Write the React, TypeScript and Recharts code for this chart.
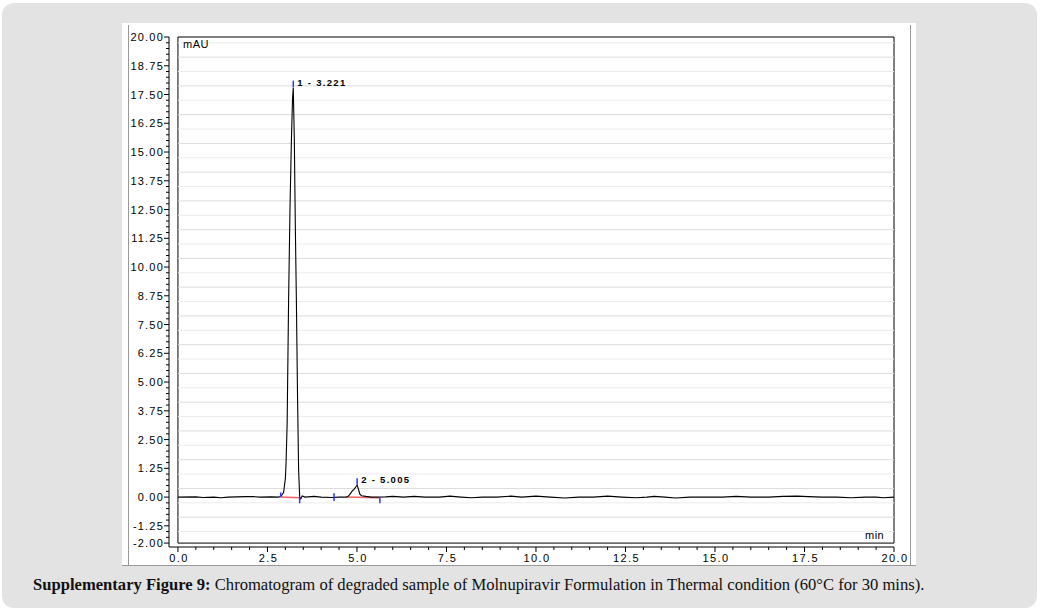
import React from 'react';
import {
  ComposedChart,
  Line,
  XAxis,
  YAxis,
  ReferenceArea,
  ReferenceLine,
} from 'recharts';

// retention time (min) and detector signal (mAU)
const times = [
  0.0, 0.5, 0.7, 1.0, 1.2, 1.4, 1.9, 2.1, 2.3, 2.6, 2.8, 2.87, 2.95, 3.0, 3.02, 3.05, 3.09, 3.13,
  3.17, 3.2, 3.221, 3.25, 3.28, 3.31, 3.34, 3.37, 3.4, 3.43, 3.47, 3.55, 3.8, 4.0, 4.3, 4.5, 4.7,
  4.75, 4.8, 4.87, 4.93, 4.97, 5.005, 5.04, 5.08, 5.13, 5.25, 5.4, 5.8, 6.0, 6.3, 6.6, 6.9, 7.3,
  7.6, 7.9, 8.2, 8.5, 8.9, 9.3, 9.6, 10.0, 10.4, 10.8, 11.2, 11.6, 12.0, 12.4, 12.8, 13.1, 13.3,
  13.6, 13.9, 14.3, 14.8, 15.2, 15.6, 16.0, 16.5, 16.9, 17.3, 17.6, 18.0, 18.4, 18.8, 19.2, 19.5,
  19.7, 20.0,
];
const signal = [
  0.0, 0.01, -0.02, 0.0, -0.03, 0.0, 0.02, 0.02, 0.0, 0.01, 0.0, 0.02, 0.2, 0.8, 1.5, 3.2, 8.5,
  12.6, 15.6, 17.3, 17.8, 15.6, 11.6, 8.3, 4.4, 1.2, 0.0, -0.08, 0.05, 0.0, 0.03, 0.0, -0.02, 0.0,
  0.0, 0.02, 0.12, 0.27, 0.36, 0.45, 0.52, 0.35, 0.13, 0.06, 0.03, 0.0, 0.01, 0.03, 0.0, 0.03, 0.0,
  0.0, 0.04, 0.0, -0.03, 0.0, 0.0, 0.04, 0.0, 0.04, 0.0, -0.04, 0.0, 0.0, 0.04, 0.0, -0.03, 0.0,
  0.03, 0.0, -0.04, 0.0, 0.0, 0.0, 0.03, 0.0, 0.0, 0.03, 0.04, 0.02, 0.0, 0.0, -0.03, 0.0, 0.0,
  -0.03, 0.0,
];

const xTicks = [0, 2.5, 5, 7.5, 10, 12.5, 15, 17.5, 20];
const yTicks = [20, 18.75, 17.5, 16.25, 15, 13.75, 12.5, 11.25, 10, 8.75, 7.5, 6.25, 5, 3.75, 2.5, 1.25, 0, -1.25, -2];

// peaks: label, apex time, apex height
const peakNames = ['1 - 3.221', '2 - 5.005'];
const peakTimes = [3.221, 5.005];
const peakHeights = [17.8, 0.52];

// integration baselines (red) and event markers (blue)
const baseStart = [2.87, 4.7];
const baseEnd = [3.4, 5.62];
const markerTimes = [2.87, 3.4, 4.36, 5.64];
const markerLow = [0, -0.27, -0.17, -0.27];
const markerHigh = [0.2, 0, 0.17, 0];

// minor ticks: 0.5 min on x, 0.25 mAU on y
const xMinor: number[] = [];
for (let i = 0; i <= 40; i++) xMinor.push(i * 0.5);
const yMinor: number[] = [];
for (let i = 0; i <= 88; i++) yMinor.push(-2 + i * 0.25);
const gridValues: number[] = [];
for (let i = 1; i <= 35; i++) gridValues.push(-2 + i * 0.625 - 0.125);

const data = times.map((t, i) => ({ t, v: signal[i] }));

const FONT = 'Liberation Sans, Arial, sans-serif';

const XTick = (props: any) => {
  const { x, y, payload } = props;
  const major = xTicks.includes(payload.value);
  return (
    <g>
      <line x1={x} x2={x} y1={y} y2={y + (major ? 5 : 3)} stroke="#000" />
      {major && (
        <text x={x + 1} y={y + 15} textAnchor="middle" fontFamily={FONT} fontSize={11} letterSpacing={1.4} fill="#000">
          {payload.value.toFixed(1)}
        </text>
      )}
    </g>
  );
};

const YTick = (props: any) => {
  const { x, y, payload } = props;
  const major = yTicks.includes(payload.value);
  return (
    <g>
      <line x1={x - (major ? 5 : 3)} x2={x} y1={y} y2={y} stroke="#000" />
      {major && (
        <text x={x - 5} y={y + 4} textAnchor="end" fontFamily={FONT} fontSize={11} letterSpacing={1.2} fill="#000">
          {payload.value.toFixed(2)}
        </text>
      )}
    </g>
  );
};

const PeakLabel = (props: any) => {
  const { viewBox, value } = props;
  return (
    <text
      x={viewBox.x + 4}
      y={viewBox.y + 5}
      fontFamily={FONT}
      fontSize={9.5}
      fontWeight="bold"
      letterSpacing={1.3}
      fill="#000"
    >
      {value}
    </text>
  );
};

export default function App() {
  return (
    <div style={{ position: 'absolute', left: 0, top: 0, width: 1041, height: 612, background: '#fff' }}>
      <div
        style={{
          position: 'absolute',
          left: 2,
          top: 3,
          width: 1035,
          height: 605,
          borderRadius: 12,
          background: '#e3e3e3',
        }}
      />
      <div style={{ position: 'absolute', left: 122, top: 23, width: 794, height: 543, background: '#fff' }} />
      <div style={{ position: 'absolute', left: 128, top: 25, width: 1, height: 541, background: '#999' }} />
      <div style={{ position: 'absolute', left: 910, top: 25, width: 1, height: 541, background: '#999' }} />
      <div style={{ position: 'absolute', left: 122, top: 565, width: 794, height: 1, background: '#999' }} />
      <div style={{ position: 'absolute', left: 122, top: 23 }}>
        <ComposedChart
          width={794}
          height={543}
          data={data}
          margin={{ top: 14, right: 22, left: 3, bottom: 1 }}
        >
          <XAxis
            dataKey="t"
            type="number"
            domain={[-0.25, 20]}
            ticks={xMinor}
            tick={<XTick />}
            tickLine={false}
            tickSize={0}
            tickMargin={0}
            height={18}
            stroke="#000"
            interval={0}
          />
          <YAxis
            type="number"
            domain={[-2.17, 20]}
            ticks={yMinor}
            tick={<YTick />}
            tickLine={false}
            tickSize={0}
            tickMargin={0}
            width={44}
            stroke="#000"
            interval={0}
          />
          {gridValues.map((g, i) => (
            <ReferenceLine
              key={`g-${i}`}
              segment={[{ x: 0, y: g }, { x: 20, y: g }]}
              stroke={i % 2 === 1 ? '#dcdcdc' : '#ececec'}
              strokeWidth={1}
            />
          ))}
          <ReferenceArea x1={0} x2={20} y1={-2} y2={20} fill="none" stroke="#000" strokeWidth={1} />
          {baseStart.map((b, i) => (
            <ReferenceLine
              key={`b-${i}`}
              segment={[{ x: b, y: 0 }, { x: baseEnd[i], y: -0.03 }]}
              stroke="#f06060"
              strokeWidth={1.5}
            />
          ))}
          <Line
            dataKey="v"
            type="linear"
            stroke="#000"
            strokeWidth={1.1}
            dot={false}
            isAnimationActive={false}
          />
          {markerTimes.map((m, i) => (
            <ReferenceLine
              key={`m-${i}`}
              segment={[{ x: m, y: markerLow[i] }, { x: m, y: markerHigh[i] }]}
              stroke="#3333ff"
              strokeWidth={1.5}
            />
          ))}
          {peakTimes.map((p, i) => (
            <ReferenceLine
              key={`p-${i}`}
              segment={[{ x: p, y: peakHeights[i] + 0.02 }, { x: p, y: peakHeights[i] + 0.3 }]}
              stroke="#3333ff"
              strokeWidth={1.5}
              label={<PeakLabel value={peakNames[i]} />}
            />
          ))}
        </ComposedChart>
      </div>
      <div style={{ position: 'absolute', left: 183, top: 38, fontFamily: FONT, fontSize: 11, letterSpacing: 0.5, color: '#000' }}>mAU</div>
      <div style={{ position: 'absolute', left: 865, top: 529, fontFamily: FONT, fontSize: 11, letterSpacing: 0.5, color: '#000' }}>min</div>
      <div
        style={{
          position: 'absolute',
          left: 33,
          top: 575,
          fontFamily: 'Liberation Serif, Times New Roman, serif',
          fontSize: 16.6,
          color: '#111',
          whiteSpace: 'nowrap',
        }}
      >
        <b>Supplementary Figure 9:</b> Chromatogram of degraded sample of Molnupiravir Formulation in Thermal
        condition (60°C for 30 mins).
      </div>
    </div>
  );
}
